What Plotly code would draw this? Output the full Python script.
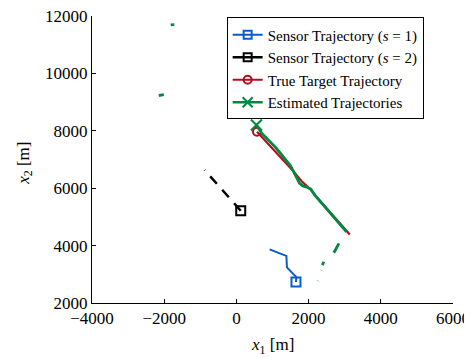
import plotly.graph_objects as go

# Sensor 1 trajectory
s1_x = [1650, 1660, 1400, 1385, 1200, 920]
s1_y = [2730, 2900, 3240, 3640, 3730, 3870]
# Sensor 2 trajectory
s2_x = [120, -880]
s2_y = [5215, 6635]
# True target trajectory
tt_x = [570, 900, 1250, 1600, 1800, 2050, 2200, 2500, 2800, 3140]
tt_y = [7970, 7520, 7060, 6560, 6250, 5960, 5730, 5310, 4880, 4390]
# Estimated trajectories (segments separated by None)
est_x = [555, 700, 1100, 1500, 1750, 1840, 1950, 2060, 2170, 2600, 3050, None,
         -1820, -1720, None,
         -2150, -2010, None,
         2840, 2700, None,
         2420, 2380, None,
         2355, 2350, None,
         2262, 2258]
est_y = [8200, 7920, 7400, 6780, 6170, 6080, 6040, 5970, 5760, 5120, 4480, None,
         11690, 11700, None,
         9230, 9260, None,
         4080, 3750, None,
         3440, 3320, None,
         3150, 3140, None,
         2780, 2770]

x_ticks = [-4000, -2000, 0, 2000, 4000, 6000]
x_ticktext = ["\u22124000", "\u22122000", "0", "2000", "4000", "6000"]
y_ticks = [2000, 4000, 6000, 8000, 10000, 12000]
y_ticktext = ["2000", "4000", "6000", "8000", "10000", "12000"]

BLUE = "#0a5cc8"
BLACK = "#000000"
RED = "#b0101a"
GREEN = "#00893f"

fig = go.Figure()
fig.add_trace(go.Scatter(x=s2_x, y=s2_y, mode="lines", line=dict(color=BLACK, width=2.5, dash="10px,8px"), showlegend=False))
fig.add_trace(go.Scatter(x=s2_x[:1], y=s2_y[:1], mode="markers",
                         marker=dict(symbol="square-open", size=9, color=BLACK, line=dict(width=2)), showlegend=False))
fig.add_trace(go.Scatter(x=s1_x, y=s1_y, mode="lines", line=dict(color=BLUE, width=2), showlegend=False))
fig.add_trace(go.Scatter(x=s1_x[:1], y=s1_y[:1], mode="markers",
                         marker=dict(symbol="square-open", size=9, color=BLUE, line=dict(width=2)), showlegend=False))
fig.add_trace(go.Scatter(x=tt_x, y=tt_y, mode="lines", line=dict(color=RED, width=2.2), showlegend=False))
fig.add_trace(go.Scatter(x=tt_x[:1], y=tt_y[:1], mode="markers",
                         marker=dict(symbol="circle-open", size=8, color=RED, line=dict(width=2)), showlegend=False))
fig.add_trace(go.Scatter(x=est_x, y=est_y, mode="lines", line=dict(color=GREEN, width=2.8), connectgaps=False, showlegend=False))
fig.add_trace(go.Scatter(x=est_x[:1], y=est_y[:1], mode="markers",
                         marker=dict(symbol="x-thin", size=11, color=GREEN, line=dict(width=2, color=GREEN)), showlegend=False))

fig.add_trace(go.Scatter(x=[None], y=[None], mode="lines+markers", name="Sensor Trajectory (<i>s</i> = 1)",
                         line=dict(color=BLUE, width=2),
                         marker=dict(symbol="square-open", size=8, color=BLUE, line=dict(width=2))))
fig.add_trace(go.Scatter(x=[None], y=[None], mode="lines+markers", name="Sensor Trajectory (<i>s</i> = 2)",
                         line=dict(color=BLACK, width=2.5),
                         marker=dict(symbol="square-open", size=8, color=BLACK, line=dict(width=2))))
fig.add_trace(go.Scatter(x=[None], y=[None], mode="lines+markers", name="True Target Trajectory",
                         line=dict(color=RED, width=2),
                         marker=dict(symbol="circle-open", size=8, color=RED, line=dict(width=2))))
fig.add_trace(go.Scatter(x=[None], y=[None], mode="lines+markers", name="Estimated Trajectories",
                         line=dict(color=GREEN, width=2.5),
                         marker=dict(symbol="x-thin", size=10, color=GREEN, line=dict(width=2, color=GREEN))))

font = "Liberation Serif, DejaVu Serif, serif"
axis_common = dict(showgrid=False, zeroline=False, showline=True, linecolor="black", linewidth=1,
                   ticks="inside", ticklen=4, tickcolor="black", mirror=False, automargin=False,
                   ticklabeloverflow="allow",
                   tickfont=dict(family=font, size=17, color="black"))
# page has an 8px body margin: shrink the figure so the plot area lands where the reference's does
fig.update_layout(
    width=464, height=350,
    margin=dict(l=84, r=19, t=8, b=55),
    plot_bgcolor="white", paper_bgcolor="white",
    font=dict(family=font, color="black", size=16),
    xaxis=dict(range=[-4000, 6000], tickmode="array", tickvals=x_ticks, ticktext=x_ticktext, **axis_common),
    yaxis=dict(range=[2000, 12000], tickmode="array", tickvals=y_ticks, ticktext=y_ticktext, **axis_common),
    legend=dict(x=0.373, y=0.995, xanchor="left", yanchor="top", bgcolor="white",
                bordercolor="black", borderwidth=1, font=dict(family=font, size=15, color="black"),
                itemwidth=30, tracegroupgap=0),
    annotations=[
        dict(text="<i>x</i><sub>1</sub> [m]", xref="paper", yref="paper", x=0.499, y=-0.15,
             xanchor="center", yanchor="middle", showarrow=False, font=dict(family=font, size=17)),
        dict(text="<i>x</i><sub>2</sub> [m]", xref="paper", yref="paper", x=-0.186, y=0.488,
             xanchor="center", yanchor="middle", textangle=-90, showarrow=False, font=dict(family=font, size=17)),
    ],
)

fig.write_html("out.html")
